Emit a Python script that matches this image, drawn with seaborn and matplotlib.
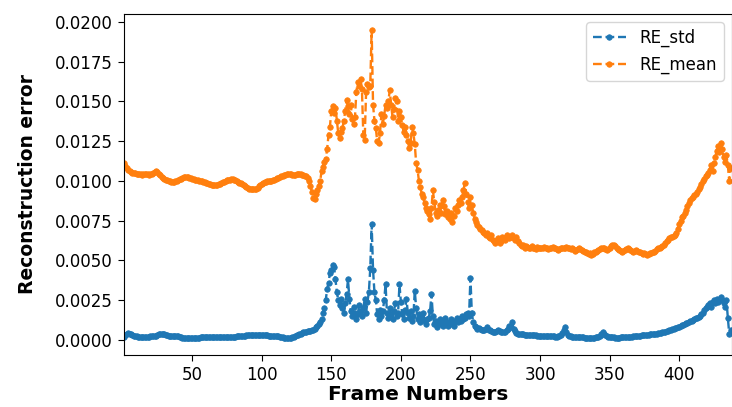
import numpy as np
import pandas as pd
import matplotlib
matplotlib.use("Agg")
import matplotlib.pyplot as plt
import seaborn as sns

# frame index 1..437
frames = np.arange(1, 438)

# reconstruction error values (units of 1e-5)
re_mean_e5 = [
    1110, 1095, 1080, 1068, 1060, 1055, 1052, 1050, 1048, 1046,
    1045, 1043, 1042, 1040, 1041, 1043, 1044, 1042, 1040, 1041,
    1045, 1052, 1058, 1062, 1055, 1045, 1035, 1025, 1018, 1012,
    1008, 1004, 1000, 998, 995, 992, 994, 998, 1002, 1006,
    1010, 1014, 1018, 1022, 1025, 1026, 1024, 1020, 1016, 1013,
    1010, 1008, 1006, 1004, 1002, 1000, 998, 995, 992, 988,
    985, 982, 979, 976, 974, 973, 972, 974, 978, 982,
    987, 992, 996, 1000, 1003, 1006, 1008, 1010, 1010, 1008,
    1005, 1000, 995, 990, 984, 978, 972, 966, 960, 955,
    952, 950, 948, 947, 948, 952, 958, 965, 972, 980,
    987, 992, 996, 999, 1000, 1001, 1002, 1004, 1008, 1012,
    1016, 1020, 1024, 1028, 1032, 1036, 1040, 1044, 1046, 1045,
    1043, 1040, 1038, 1040, 1043, 1045, 1046, 1044, 1040, 1038,
    1034, 1028, 1018, 1000, 970, 930, 890, 885, 915, 945,
    970, 1000, 1060, 1090, 1120, 1140, 1200, 1290, 1340, 1440,
    1470, 1430, 1460, 1380, 1300, 1270, 1310, 1330, 1380, 1440,
    1510, 1470, 1420, 1480, 1390, 1360, 1400, 1560, 1620, 1600,
    1640, 1580, 1290, 1260, 1560, 1610, 1590, 1600, 1950, 1480,
    1380, 1330, 1250, 1240, 1300, 1420, 1360, 1410, 1480, 1460,
    1500, 1570, 1480, 1400, 1450, 1520, 1500, 1380, 1440, 1400,
    1350, 1310, 1340, 1290, 1250, 1210, 1240, 1340, 1300, 1230,
    1110, 1070, 1000, 960, 920, 900, 860, 830, 810, 790,
    760, 830, 940, 870, 800, 780, 820, 850, 800, 880,
    840, 790, 810, 770, 760, 800, 740, 780, 830, 810,
    850, 880, 860, 900, 940, 990, 920, 870, 830, 900,
    850, 800, 760, 740, 720, 710, 700, 690, 680, 670,
    660, 670, 650, 640, 660, 630, 620, 610, 630, 640,
    610, 620, 650, 640, 630, 660, 650, 640, 650, 660,
    640, 630, 650, 620, 610, 600, 590, 600, 580, 590,
    585, 580, 575, 590, 580, 575, 570, 585, 580, 575,
    575, 580, 585, 580, 575, 570, 575, 580, 585, 580,
    575, 570, 565, 570, 575, 580, 575, 580, 585, 580,
    575, 570, 575, 570, 560, 565, 570, 575, 570, 565,
    560, 555, 550, 545, 540, 545, 535, 540, 550, 555,
    560, 565, 570, 575, 580, 575, 570, 565, 570, 580,
    590, 595, 600, 590, 580, 570, 565, 560, 555, 560,
    565, 570, 575, 570, 565, 560, 555, 560, 565, 560,
    555, 550, 545, 540, 545, 540, 535, 540, 545, 548,
    550, 555, 560, 570, 575, 580, 585, 590, 600, 610,
    620, 630, 640, 645, 650, 655, 660, 670, 700, 730,
    750, 770, 780, 800, 820, 840, 860, 880, 890, 900,
    910, 920, 930, 950, 960, 980, 1000, 1010, 1030, 1040,
    1050, 1070, 1100, 1060, 1110, 1150, 1190, 1220, 1180, 1240,
    1200, 1150, 1120, 1160, 1100, 1000, 1080,
]

re_std_e5 = [
    20, 30, 38, 42, 40, 35, 30, 26, 24, 22,
    20, 20, 19, 20, 21, 20, 19, 20, 21, 22,
    22, 23, 24, 26, 30, 34, 38, 40, 38, 34,
    30, 28, 26, 25, 24, 24, 25, 26, 24, 22,
    20, 18, 15, 12, 10, 9, 9, 10, 10, 11,
    11, 12, 13, 14, 15, 16, 17, 18, 18, 18,
    18, 18, 18, 18, 19, 19, 19, 19, 19, 19,
    19, 19, 19, 18, 17, 17, 17, 18, 19, 20,
    21, 22, 23, 24, 25, 26, 27, 27, 28, 28,
    28, 29, 29, 30, 30, 30, 30, 29, 29, 28,
    28, 28, 28, 28, 27, 27, 27, 26, 25, 24,
    23, 22, 20, 18, 16, 14, 12, 10, 10, 12,
    14, 17, 20, 24, 28, 32, 36, 40, 44, 48,
    50, 52, 54, 56, 58, 60, 64, 70, 78, 90,
    100, 110, 130, 170, 200, 250, 320, 360, 420, 440,
    470, 460, 380, 300, 250, 220, 260, 200, 170, 230,
    290, 380, 260, 180, 150, 210, 170, 130, 160, 220,
    180, 150, 200, 260, 170, 240, 300, 450, 730, 440,
    300, 250, 160, 130, 190, 150, 180, 250, 350, 170,
    140, 200, 160, 130, 180, 230, 150, 170, 350, 240,
    160, 130, 190, 260, 170, 140, 180, 120, 150, 310,
    200, 130, 160, 110, 140, 170, 120, 100, 130, 140,
    180, 290, 150, 100, 120, 80, 110, 130, 100, 90,
    120, 140, 110, 90, 100, 130, 110, 90, 120, 140,
    110, 130, 120, 150, 130, 140, 160, 170, 150, 390,
    170, 110, 90, 80, 70, 75, 70, 65, 60, 62,
    70, 80, 65, 60, 55, 50, 48, 50, 55, 60,
    55, 50, 48, 50, 52, 60, 70, 90, 80, 110,
    70, 55, 45, 40, 38, 36, 35, 34, 33, 32,
    32, 31, 30, 30, 29, 28, 28, 27, 27, 26,
    26, 25, 25, 24, 24, 23, 23, 22, 22, 22,
    21, 21, 22, 24, 30, 45, 60, 80, 50, 30,
    25, 22, 20, 19, 18, 18, 17, 17, 16, 16,
    16, 15, 15, 15, 14, 14, 14, 15, 15, 16,
    18, 20, 25, 35, 50, 40, 30, 25, 20, 18,
    17, 16, 16, 15, 15, 15, 15, 16, 16, 17,
    17, 18, 18, 19, 20, 21, 22, 23, 24, 25,
    26, 27, 28, 29, 30, 31, 32, 33, 34, 35,
    36, 37, 38, 40, 42, 44, 46, 48, 50, 52,
    55, 58, 61, 64, 67, 70, 73, 76, 80, 84,
    88, 92, 96, 100, 104, 108, 112, 116, 120, 125,
    130, 135, 140, 145, 150, 160, 170, 190, 200, 210,
    220, 230, 210, 240, 250, 230, 260, 240, 250, 270,
    250, 230, 210, 250, 140, 40, 60,
]

df = pd.DataFrame({
    "frame": frames,
    "RE_std": np.array(re_std_e5) / 1e5,
    "RE_mean": np.array(re_mean_e5) / 1e5,
})

fig = plt.figure(figsize=(7.32, 4.07), dpi=100)
ax = fig.add_axes([124 / 732, 1 - 355 / 407, 608 / 732, 341 / 407])

colors = {"RE_std": "#1f77b4", "RE_mean": "#ff7f0e"}
for col in ["RE_std", "RE_mean"]:
    sns.lineplot(data=df, x="frame", y=col, ax=ax, label=col,
                 color=colors[col], linestyle="--", linewidth=1.7,
                 marker=".", markersize=8, markeredgecolor=colors[col],
                 markeredgewidth=0.5)

ax.set_xlim(1, 438)
ax.set_ylim(-0.00095, 0.0205)
ax.tick_params(labelsize=12, length=4.5)
ax.set_xlabel("Frame Numbers", fontsize=14.5, fontweight="bold", labelpad=1)
ax.set_ylabel("Reconstruction error", fontsize=13.5, fontweight="bold", labelpad=13)
ax.xaxis.label.set_x(0.484)
ax.legend(loc="upper right", fontsize=12)

fig.savefig("out.png", dpi=100)
